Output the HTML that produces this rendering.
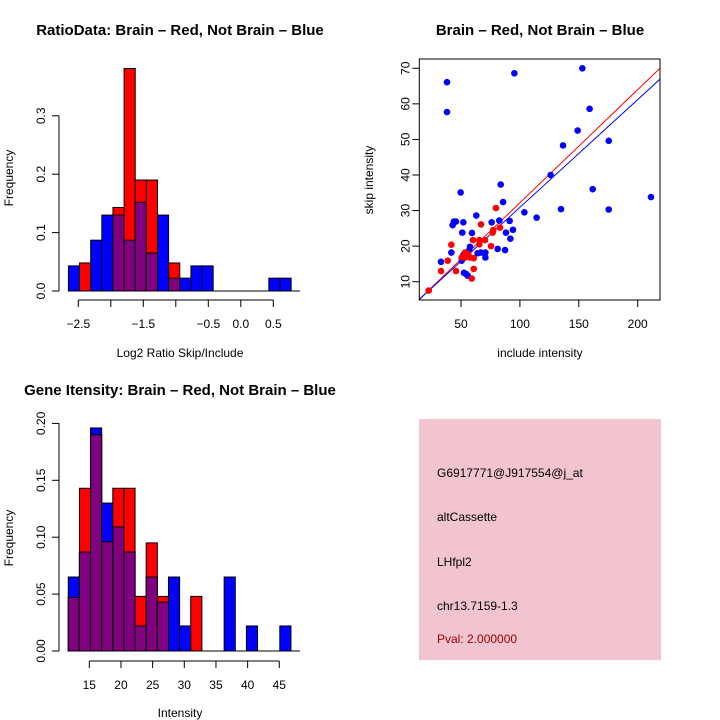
<!DOCTYPE html>
<html><head><meta charset="utf-8"><style>
body{margin:0;background:#fff}
svg{display:block;font-family:"Liberation Sans",sans-serif}
</style></head><body>
<svg id="chart" width="720" height="720" viewBox="0 0 720 720" xmlns="http://www.w3.org/2000/svg">
<g id="h1"></g>
<g id="sc"></g>
<g id="h2"></g>
<g>
<rect x="419" y="419" width="242" height="241" fill="#f2c4cf"/>
<text x="437" y="477" font-size="12">G6917771@J917554@j_at</text>
<text x="437" y="521" font-size="12">altCassette</text>
<text x="437" y="566" font-size="12">LHfpl2</text>
<text x="437" y="610" font-size="12">chr13.7159-1.3</text>
<text x="437" y="643" font-size="12" fill="#a00000">Pval: 2.000000</text>
</g>
</svg>
<script>
const NS="http://www.w3.org/2000/svg";
// ---- Histogram 1 data ----
const h1Start=-2.652, h1Width=0.1713;
const h1Blue=[0.043,0,0.087,0.13,0.13,0.087,0.152,0.065,0.13,0.022,0.022,0.043,0.043,0,0,0,0,0,0.022,0.022];
const h1Red=[0,0.048,0,0,0.143,0.381,0.19,0.19,0,0.048,0,0,0,0,0,0,0,0,0,0];
const h1XTicks=[-2.5,-2,-1.5,-1,-0.5,0,0.5];
const h1XLabels=["\u22122.5","","\u22121.5","","\u22120.5","0.0","0.5"];
const h1YTicks=[0,0.1,0.2,0.3];
const h1YLabels=["0.0","0.1","0.2","0.3"];
// ---- Histogram 2 data ----
const h2Start=11.68, h2Width=1.758;
const h2Blue=[0.065,0.087,0.196,0.13,0.109,0.087,0.022,0.065,0.043,0.065,0.022,0,0,0,0.065,0,0.022,0,0,0.022];
const h2Red=[0.047,0.143,0.19,0.096,0.143,0.143,0.048,0.095,0.048,0,0,0.048,0,0,0,0,0,0,0,0];
const h2XTicks=[15,20,25,30,35,40,45];
const h2XLabels=["15","20","25","30","35","40","45"];
const h2YTicks=[0,0.05,0.1,0.15,0.2];
const h2YLabels=["0.00","0.05","0.10","0.15","0.20"];
// ---- Scatter data ----
const blueX=[38.1,38.1,95.3,153,159.2,149,136.6,175.4,126.1,161.8,134.9,175.4,211.3,114.2,103.8,83.7,85.7,49.7,63,44,42.9,45.7,52,51.1,59.3,76,82.5,91.3,94.1,88.2,91.9,87.4,81.1,70.7,70.7,67,64.1,57.6,57,41.8,33,52,50.6,52.8,52.5,54.2,55.7];
const blueY=[66.1,57.7,68.6,70,58.6,52.5,48.3,49.6,40,36,30.4,30.3,33.8,28,29.5,37.3,32.4,35.1,28.6,26.9,25.9,26.9,26.7,23.8,23.7,26.7,27.2,27.1,24.6,23.8,22.1,18.9,19.2,18.2,16.8,18.2,18,19.8,18.9,18.2,15.6,17.5,15.9,17.8,12.5,12.2,11.7];
const redX=[22.6,33,38.7,41.8,45.8,59.1,60.8,60.2,60.8,53.4,56.2,53.4,57.6,50.6,65.6,67,65.6,70.4,75.5,76.9,79.7,83.1,77.4];
const redY=[7.5,13,15.9,20.4,13,10.9,13.6,21.7,16.6,18.2,17.8,16.8,16.8,16.8,21.7,26.1,20.5,21.7,20,23.8,30.7,25.2,24.5];
const redFit=[0.318,0.4], blueFit=[0.303,0.6];
const scXTicks=[50,100,150,200];
const scYTicks=[10,20,30,40,50,60,70];

function el(tag,attrs,parent,txt){const e=document.createElementNS(NS,tag);for(const k in attrs)e.setAttribute(k,attrs[k]);if(txt!==undefined)e.textContent=txt;parent.appendChild(e);return e;}

function hist(g,start,w,blue,red,xt,xl,yt,yl,sx,sy,axisY,yAxisX){
  for(let i=0;i<blue.length;i++){
    const x0=sx(start+i*w),x1=sx(start+(i+1)*w);
    const b=blue[i],r=red[i],m=Math.min(b,r);
    if(b>0){const e=el('rect',{x:x0,y:sy(b),width:x1-x0,height:sy(0)-sy(b),fill:'#0000ff',stroke:'#000','stroke-width':1},g);
      
      }
    if(r>0){const e=el('rect',{x:x0,y:sy(r),width:x1-x0,height:sy(0)-sy(r),fill:'#ff0000',stroke:'#000','stroke-width':1},g);
      
      }
    if(m>0){const e=el('rect',{x:x0,y:sy(m),width:x1-x0,height:sy(0)-sy(m),fill:'#800080',stroke:'#000','stroke-width':1},g);
      
      }
  }
  const bl=el('line',{x1:sx(start),x2:sx(start+blue.length*w)+9,y1:sy(0),y2:sy(0),stroke:'#000'},g);
  
  
  const xa=el('line',{x1:sx(xt[0]),x2:sx(xt[xt.length-1]),y1:axisY,y2:axisY,stroke:'#000'},g);
  
  
  xt.forEach((v,i)=>{el('line',{x1:sx(v),x2:sx(v),y1:axisY,y2:axisY+7,stroke:'#000'},g);
    if(xl[i]){const t=el('text',{x:sx(v),y:axisY+28,'font-size':12,'text-anchor':'middle'},g,xl[i]);
      
      }});
  const ya=el('line',{x1:yAxisX,x2:yAxisX,y1:sy(yt[0]),y2:sy(yt[yt.length-1]),stroke:'#000'},g);
  
  
  yt.forEach((v,i)=>{el('line',{x1:yAxisX-7,x2:yAxisX,y1:sy(v),y2:sy(v),stroke:'#000'},g);
    const t=el('text',{x:0,y:0,'font-size':12,'text-anchor':'middle',transform:`translate(${yAxisX-14},${sy(v)}) rotate(-90)`},g,yl[i]);
    
    });
}
// Histogram 1
{
 const g=document.getElementById('h1');
 const sx=v=>78.3+(v+2.5)*65, sy=v=>291-v*584;
 hist(g,h1Start,h1Width,h1Blue,h1Red,h1XTicks,h1XLabels,h1YTicks,h1YLabels,sx,sy,300,59);
 const t=el('text',{x:180,y:35,'font-size':15,'font-weight':'bold','text-anchor':'middle'},g,'RatioData: Brain \u2013 Red, Not Brain \u2013 Blue');
 
 
 const xl=el('text',{x:180,y:357,'font-size':12,'text-anchor':'middle'},g,'Log2 Ratio Skip/Include');
 
 
 const yl=el('text',{x:0,y:0,'font-size':12,'text-anchor':'middle',transform:'translate(13,178) rotate(-90)'},g,'Frequency');
 
 
}
// Histogram 2
{
 const g=document.getElementById('h2');
 const sx=v=>89.3+(v-15)*6.333, sy=v=>651-v*1138;
 hist(g,h2Start,h2Width,h2Blue,h2Red,h2XTicks,h2XLabels,h2YTicks,h2YLabels,sx,sy,661,59);
 const t=el('text',{x:180,y:395,'font-size':15,'font-weight':'bold','text-anchor':'middle'},g,'Gene Itensity: Brain \u2013 Red, Not Brain \u2013 Blue');
 
 
 const xl=el('text',{x:180,y:717,'font-size':12,'text-anchor':'middle'},g,'Intensity');
 
 
 const yl=el('text',{x:0,y:0,'font-size':12,'text-anchor':'middle',transform:'translate(13,538) rotate(-90)'},g,'Frequency');
 
 
}
// Scatter
{
 const g=document.getElementById('sc');
 const sx=v=>461+(v-50)*1.178, sy=v=>281.7-(v-10)*3.557;
 const L=419.3,R=660,T=59,B=300;
 const clip=el('clipPath',{id:'scclip'},g);el('rect',{x:L,y:T,width:R-L,height:B-T},clip);
 const xmin=(L-461)/1.178+50, xmax=(R-461)/1.178+50;
 [[redFit,'#ff0000','red-fit-line'],[blueFit,'#0000ff','blue-fit-line']].forEach(([f,c,n])=>{
   const l=el('line',{x1:sx(xmin),y1:sy(f[0]*xmin+f[1]),x2:sx(xmax),y2:sy(f[0]*xmax+f[1]),stroke:c,'clip-path':'url(#scclip)'},g);
   
   });
 blueX.forEach((v,i)=>{const c=el('circle',{cx:sx(v),cy:sy(blueY[i]),r:3.3,fill:'#0000ff'},g);
   
   });
 redX.forEach((v,i)=>{const c=el('circle',{cx:sx(v),cy:sy(redY[i]),r:3.3,fill:'#ff0000'},g);
   
   });
 const box=el('rect',{x:L,y:T,width:R-L,height:B-T,fill:'none',stroke:'#000'},g);
 
 
 scXTicks.forEach(v=>{el('line',{x1:sx(v),x2:sx(v),y1:B,y2:B+7,stroke:'#000'},g);
   const t=el('text',{x:sx(v),y:B+28,'font-size':12,'text-anchor':'middle'},g,String(v));
   
   });
 scYTicks.forEach(v=>{el('line',{x1:L-7,x2:L,y1:sy(v),y2:sy(v),stroke:'#000'},g);
   const t=el('text',{x:0,y:0,'font-size':12,'text-anchor':'middle',transform:`translate(${L-10},${sy(v)}) rotate(-90)`},g,String(v));
   
   });
 const t=el('text',{x:540,y:35,'font-size':15,'font-weight':'bold','text-anchor':'middle'},g,'Brain \u2013 Red, Not Brain \u2013 Blue');
 
 
 const xl=el('text',{x:540,y:357,'font-size':12,'text-anchor':'middle'},g,'include intensity');
 
 
 const yl=el('text',{x:0,y:0,'font-size':12,'text-anchor':'middle',transform:'translate(373,180) rotate(-90)'},g,'skip intensity');
 
 
}
</script>
</body></html>
